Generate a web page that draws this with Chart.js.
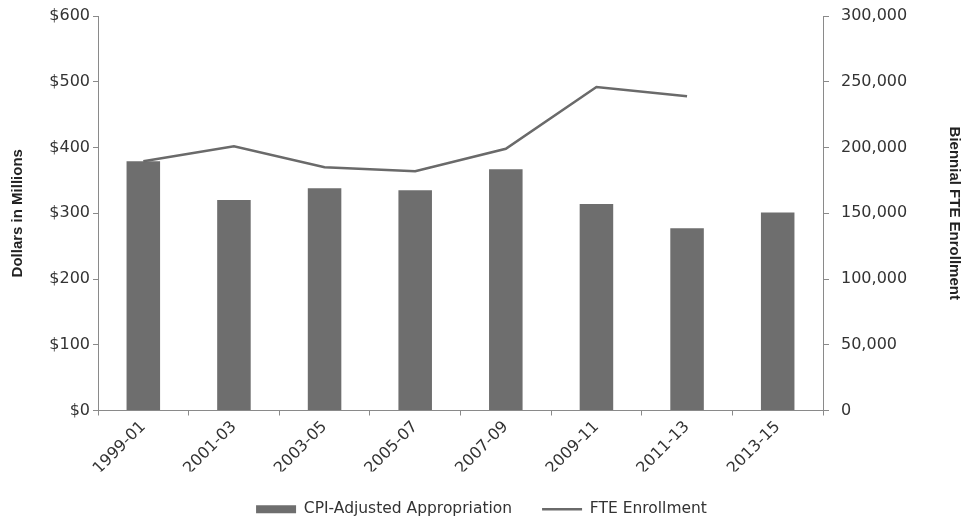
<!DOCTYPE html>
<html>
<head>
<meta charset="utf-8">
<script src="https://cdn.jsdelivr.net/npm/chart.js@4/dist/chart.umd.min.js"></script>
<style>
  html, body { margin: 0; padding: 0; background: #ffffff; }
  #wrap { width: 963px; height: 520px; }
</style>
</head>
<body>
<div id="wrap"><canvas id="chart" width="963" height="520"></canvas></div>
<script>
// Biennium labels
const biennia = ['1999-01', '2001-03', '2003-05', '2005-07', '2007-09', '2009-11', '2011-13', '2013-15'];
// CPI-adjusted state appropriation, millions of dollars
const appropriation = [379, 320, 338, 335, 367, 314, 277, 301];
// Biennial full-time-equivalent enrollment (no figure yet for 2013-15)
const enrollment = [189500, 201000, 185000, 182000, 199000, 246000, 239000, null];
// Axis ranges
const dollarMax = 600, dollarStep = 100;
const fteMax = 300000, fteStep = 50000;

const textColor = '#333333';
const axisColor = '#8a8a8a';
const tickFont = { family: 'DejaVu Sans', size: 16 };
const titleFont = { family: 'Liberation Sans', size: 15, weight: 'bold' };

// keep the value axes from reserving extra room for their end labels
function fixedWidth(w) {
  return scale => {
    scale.width = w;
    scale.paddingTop = 0;
    scale.paddingBottom = 0;
  };
}

new Chart(document.getElementById('chart'), {
  data: {
    labels: biennia,
    datasets: [
      {
        type: 'bar',
        label: 'CPI-Adjusted Appropriation',
        data: appropriation,
        yAxisID: 'y',
        backgroundColor: '#6e6e6e',
        borderWidth: 0,
        barPercentage: 0.37,
        categoryPercentage: 1,
        order: 1
      },
      {
        type: 'line',
        label: 'FTE Enrollment',
        data: enrollment,
        yAxisID: 'y1',
        borderColor: '#6a6a6a',
        backgroundColor: '#6a6a6a',
        borderWidth: 2.5,
        pointRadius: 0,
        pointStyle: 'line',
        tension: 0,
        fill: false,
        order: 0
      }
    ]
  },
  options: {
    responsive: false,
    animation: false,
    layout: { padding: { top: 16, bottom: -7, left: 0, right: 0 } },
    plugins: {
      tooltip: { enabled: false },
      legend: {
        position: 'bottom',
        labels: {
          color: textColor,
          font: { family: 'DejaVu Sans', size: 15.5 },
          usePointStyle: true,
          pointStyleWidth: 40,
          boxHeight: 8,
          padding: 30,
          generateLabels(chart) {
            return chart.data.datasets.map((ds, i) => ({
              text: ds.label,
              fillStyle: ds.type === 'bar' ? ds.backgroundColor : ds.borderColor,
              strokeStyle: ds.type === 'bar' ? ds.backgroundColor : ds.borderColor,
              lineWidth: ds.type === 'bar' ? 0 : 2.5,
              pointStyle: ds.type === 'bar' ? 'rect' : 'line',
              fontColor: textColor,
              hidden: false,
              datasetIndex: i
            }));
          }
        }
      }
    },
    scales: {
      x: {
        offset: true,
        grid: {
          offset: true,
          drawOnChartArea: false,
          drawTicks: true,
          tickLength: 5,
          color: axisColor
        },
        border: { display: true, color: axisColor, width: 1 },
        ticks: {
          color: textColor,
          font: tickFont,
          minRotation: 45,
          maxRotation: 45,
          autoSkip: false,
          padding: 2
        },
        afterFit(scale) { scale.height = 61; }
      },
      y: {
        position: 'left',
        min: 0,
        max: dollarMax,
        grid: {
          drawOnChartArea: false,
          drawTicks: true,
          tickLength: 5,
          color: axisColor
        },
        border: { display: true, color: axisColor, width: 1 },
        ticks: {
          stepSize: dollarStep,
          color: textColor,
          font: tickFont,
          padding: 3,
          callback: v => '$' + v
        },
        title: {
          display: true,
          text: 'Dollars in Millions',
          color: '#222222',
          font: titleFont,
          padding: { top: 9, bottom: 2 }
        },
        afterFit: fixedWidth(98)
      },
      y1: {
        position: 'right',
        min: 0,
        max: fteMax,
        grid: {
          drawOnChartArea: false,
          drawTicks: true,
          tickLength: 6,
          color: axisColor
        },
        border: { display: true, color: axisColor, width: 1 },
        ticks: {
          stepSize: fteStep,
          color: textColor,
          font: tickFont,
          padding: 12,
          callback: v => v.toLocaleString('en-US')
        },
        title: {
          display: true,
          text: 'Biennial FTE Enrollment',
          color: '#222222',
          font: titleFont,
          padding: { top: 0, bottom: 0 }
        },
        afterFit: fixedWidth(140)
      }
    }
  }
});
</script>
</body>
</html>
